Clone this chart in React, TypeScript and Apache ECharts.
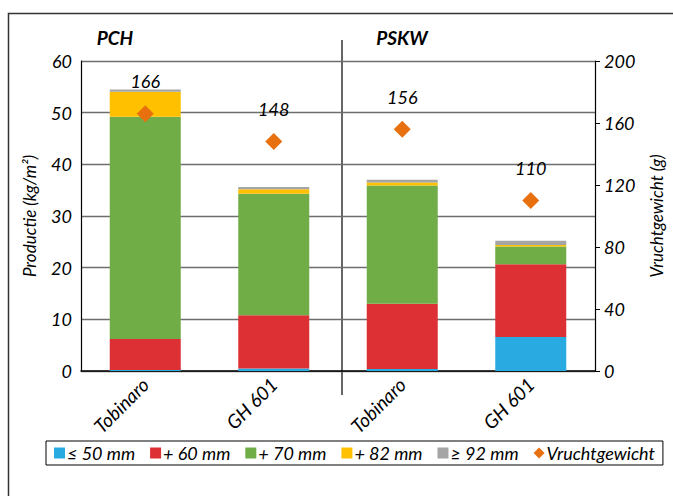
import React, { useEffect, useRef } from "react";
import * as echarts from "echarts";

const categories = ["Tobinaro", "GH 601", "Tobinaro", "GH 601"];
const seriesNames = ["≤ 50 mm", "+ 60 mm", "+ 70 mm", "+ 82 mm", "≥ 92 mm"];
const le50 = [0.2, 0.5, 0.4, 6.6];
const p60 = [6.0, 10.3, 12.6, 14.05];
const p70 = [43.0, 23.5, 22.9, 3.45];
const p82 = [4.85, 0.9, 0.6, 0.3];
const ge92 = [0.45, 0.4, 0.5, 0.8];
const vruchtgewicht = [166, 148, 156, 110];
const colors = ["#29ABE2", "#DC3035", "#70AD47", "#FFC000", "#A5A5A5"];
const groupLabels = ["PCH", "PSKW"];

const FONT = "Lato, 'Open Sans', sans-serif";

export default function App() {
  const ref = useRef<HTMLDivElement>(null);
  useEffect(() => {
    const chart = echarts.init(ref.current!, null, { renderer: "svg" });
    const stacks = [le50, p60, p70, p82, ge92];
    const textBase = { fontFamily: FONT, fontStyle: "italic", color: "#000", fontSize: 18 };
    chart.setOption({
      animation: false,
      textStyle: { fontFamily: FONT },
      grid: { left: 81, right: 73, top: 61, bottom: 125 },
      legend: {
        left: 46,
        top: 441,
        padding: [3, 8, 3, 8],
        borderColor: "#000",
        borderWidth: 1,
        itemWidth: 11,
        itemHeight: 11,
        itemGap: 15,
        textStyle: { ...textBase, fontSize: 18, padding: [0, 0, 0, -3] },
        data: [
          ...seriesNames.map((n) => ({ name: n, icon: "rect" })),
          { name: "Vruchtgewicht", icon: "diamond" },
        ],
      },
      xAxis: {
        type: "category",
        data: categories,
        axisLine: { lineStyle: { color: "#000", width: 1.5 } },
        axisTick: { show: false },
        axisLabel: {
          ...textBase,
          fontSize: 19,
          rotate: 45,
          margin: 10,
          interval: 0,
        },
      },
      yAxis: [
        {
          type: "value",
          min: 0,
          max: 60,
          interval: 10,
          name: "Productie (kg/m²)",
          nameLocation: "middle",
          nameGap: 43,
          nameRotate: 90,
          nameTextStyle: { ...textBase, fontSize: 17 },
          axisLine: { show: true, lineStyle: { color: "#000", width: 1.2 } },
          axisTick: { show: false },
          axisLabel: { ...textBase, margin: 9 },
          splitLine: { lineStyle: { color: "#6E6E6E", width: 1.3 } },
        },
        {
          type: "value",
          min: 0,
          max: 200,
          interval: 40,
          name: "Vruchtgewicht (g)",
          nameLocation: "middle",
          nameGap: 53,
          nameRotate: 90,
          nameTextStyle: { ...textBase, fontSize: 17 },
          axisLine: { show: true, lineStyle: { color: "#000", width: 1.2 } },
          axisTick: { show: true, length: 5, lineStyle: { color: "#000" } },
          axisLabel: { ...textBase, margin: 9 },
          splitLine: { show: false },
        },
      ],
      series: [
        ...stacks.map((d, i) => ({
          name: seriesNames[i],
          type: "bar",
          stack: "prod",
          barWidth: 71,
          data: d,
          itemStyle: { color: colors[i] },
        })),
        {
          name: "Vruchtgewicht",
          type: "scatter",
          yAxisIndex: 1,
          symbol: "diamond",
          symbolSize: 17,
          data: vruchtgewicht,
          itemStyle: { color: "#E8700F", opacity: 1 },
          z: 10,
          label: {
            show: true,
            position: "top",
            distance: 15,
            fontFamily: FONT,
            fontStyle: "italic",
            fontSize: 18,
            color: "#000",
            opacity: 1,
          },
        },
      ],
      graphic: [
        {
          type: "polyline",
          shape: { points: [[8.5, 496], [8.5, 13.5], [673, 13.5]] },
          style: { fill: "none", stroke: "#333", lineWidth: 1.5 },
          silent: true,
        },
        {
          type: "line",
          shape: { x1: 342, y1: 40, x2: 342, y2: 395 },
          style: { stroke: "#000", lineWidth: 1.2 },
        },
        {
          type: "text",
          x: 115,
          y: 37,
          style: {
            text: groupLabels[0],
            font: `italic bold 19px ${FONT}`,
            fill: "#000",
            align: "center",
            verticalAlign: "middle",
          },
        },
        {
          type: "text",
          x: 402,
          y: 37,
          style: {
            text: groupLabels[1],
            font: `italic bold 19px ${FONT}`,
            fill: "#000",
            align: "center",
            verticalAlign: "middle",
          },
        },
      ],
    });
    return () => chart.dispose();
  }, []);
  return (
    <div
      ref={ref}
      style={{ position: "fixed", left: 0, top: 0, width: 673, height: 496, background: "#fff" }}
    />
  );
}
